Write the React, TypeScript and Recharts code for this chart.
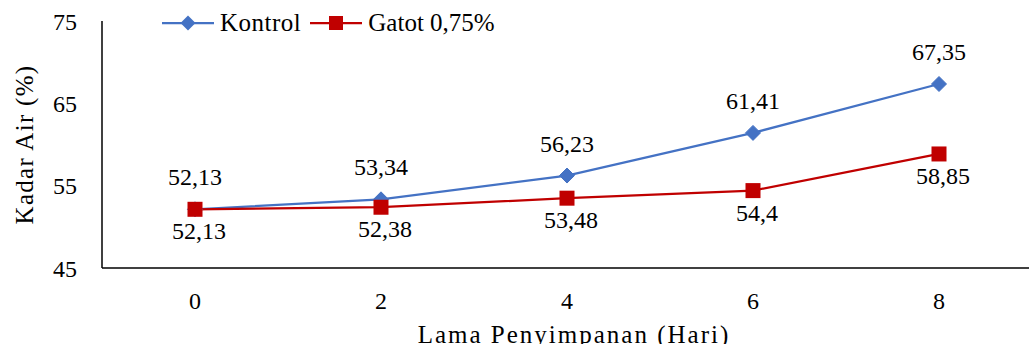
import React from 'react';
import { LineChart, Line, XAxis, YAxis, LabelList } from 'recharts';

const days = ['0', '2', '4', '6', '8'];
const kontrol = [52.13, 53.34, 56.23, 61.41, 67.35];
const gatot = [52.13, 52.38, 53.48, 54.4, 58.85];
const yTicks = [45, 55, 65, 75];

const FONT = '"Palatino Linotype", "Book Antiqua", Palatino, "Liberation Serif", serif';
const BLUE = '#4472C4';
const RED = '#C00000';
const AXIS = '#404040';

const data = days.map((day, i) => ({ day, kontrol: kontrol[i], gatot: gatot[i] }));

const fmt = (v: number) => String(v).replace('.', ',');

const Diamond = ({ cx, cy }: any) => {
  if (cx == null || cy == null) return null;
  const r = 7.5;
  return (
    <polygon
      points={`${cx},${cy - r} ${cx + r},${cy} ${cx},${cy + r} ${cx - r},${cy}`}
      fill={BLUE}
      stroke={BLUE}
    />
  );
};

const Square = ({ cx, cy }: any) => {
  if (cx == null || cy == null) return null;
  return <rect x={cx - 7.5} y={cy - 7.5} width={15} height={15} fill={RED} />;
};

// value labels: Kontrol above the point, Gatot below and nudged right
const labelAbove = ({ x, y, value }: any) => (
  <text x={x} y={y - 32} textAnchor="middle" dominantBaseline="central" fontFamily={FONT} fontSize={24} fill="#000">
    {fmt(value)}
  </text>
);

const labelBelow = ({ x, y, value }: any) => (
  <text x={x + 4} y={y + 22} textAnchor="middle" dominantBaseline="central" fontFamily={FONT} fontSize={24} fill="#000">
    {fmt(value)}
  </text>
);

const legendItems = [
  { name: 'Kontrol', color: BLUE, marker: 'diamond' },
  { name: 'Gatot 0,75%', color: RED, marker: 'square' },
];

// legend sits over the top of the plot, outside the chart layout
const ChartLegend = () => (
  <div
    style={{
      position: 'absolute',
      left: 162,
      top: 8,
      display: 'flex',
      alignItems: 'center',
      fontFamily: FONT,
      fontSize: 25,
      lineHeight: '30px',
      color: '#000',
    }}
  >
    {legendItems.map((it) => (
      <div key={it.name} style={{ display: 'flex', alignItems: 'center', marginRight: 9 }}>
        <svg width={52} height={18}>
          <line x1={0} y1={9} x2={52} y2={9} stroke={it.color} strokeWidth={2.25} />
          {it.marker === 'diamond' ? (
            <polygon points="26,1.5 33.5,9 26,16.5 18.5,9" fill={it.color} />
          ) : (
            <rect x={19} y={2} width={14} height={14} fill={it.color} />
          )}
        </svg>
        <span style={{ marginLeft: 6, letterSpacing: it.marker === 'diamond' ? 0.5 : 0 }}>{it.name}</span>
      </div>
    ))}
  </div>
);

const YTitle = ({ viewBox }: any) => {
  const cy = viewBox.y + viewBox.height / 2;
  return (
    <text x={24} y={cy} transform={`rotate(-90, 24, ${cy})`} textAnchor="middle" dominantBaseline="central" fontFamily={FONT} fontSize={25} letterSpacing={1.3} fill="#000">
      Kadar Air (%)
    </text>
  );
};

const XTitle = ({ viewBox }: any) => (
  <text x={574} y={343} textAnchor="middle" fontFamily={FONT} fontSize={25} letterSpacing={2} fill="#000">
    Lama Penyimpanan (Hari)
  </text>
);

export default function App() {
  return (
    <div style={{ position: 'absolute', left: 0, top: 0, width: 1029, height: 344, overflow: 'hidden', background: '#fff' }}>
      <LineChart width={1040} height={344} data={data} margin={{ top: 21, right: 8, left: 0, bottom: 0 }}>
        <XAxis
          dataKey="day"
          height={76}
          padding={{ left: 93, right: 93 }}
          axisLine={{ stroke: AXIS, strokeWidth: 2 }}
          tickLine={false}
          tickSize={0}
          tickMargin={24}
          tick={{ fontFamily: FONT, fontSize: 24, fill: '#000' }}
          label={<XTitle />}
        />
        <YAxis
          width={102}
          domain={[45, 75]}
          ticks={yTicks}
          interval={0}
          axisLine={{ stroke: '#000', strokeWidth: 1.5 }}
          tickLine={false}
          tickSize={0}
          tickMargin={25}
          tick={{ fontFamily: FONT, fontSize: 24, fill: '#000' }}
          label={<YTitle />}
        />
        <Line dataKey="kontrol" stroke={BLUE} strokeWidth={2.25} dot={<Diamond />} activeDot={false} isAnimationActive={false}>
          <LabelList dataKey="kontrol" content={labelAbove} />
        </Line>
        <Line dataKey="gatot" stroke={RED} strokeWidth={2.25} dot={<Square />} activeDot={false} isAnimationActive={false}>
          <LabelList dataKey="gatot" content={labelBelow} />
        </Line>
      </LineChart>
      <ChartLegend />
    </div>
  );
}
